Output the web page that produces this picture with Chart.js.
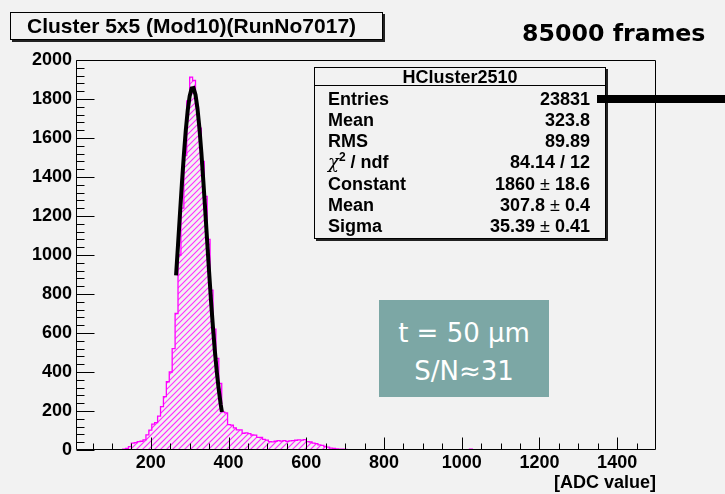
<!DOCTYPE html>
<html><head><meta charset="utf-8">
<script src="https://cdn.jsdelivr.net/npm/chart.js@4.4.1/dist/chart.umd.min.js"></script>
<style>
html,body{margin:0;padding:0;background:#fff;}
#wrap{position:relative;width:725px;height:494px;background:#f2f2f2;overflow:hidden;font-family:'Liberation Sans',Arial,sans-serif;color:#000;}
canvas{position:absolute;left:0;top:0;}
.abs{position:absolute;white-space:nowrap;}
#titlebox{left:10px;top:12px;width:355px;height:26px;border:1px solid #000;box-shadow:2px 2px 0 #222;font-weight:bold;font-size:21px;line-height:26px;padding-left:16px;box-sizing:content-box;}
#frames{left:522px;top:19px;font-family:'DejaVu Sans',Verdana,sans-serif;font-weight:bold;font-size:23.7px;line-height:28px;}
#stats{left:314px;top:67px;width:290px;height:170px;border:1px solid #000;box-shadow:2px 2px 0 #222;}
#statsHead{left:314px;top:67px;width:292px;height:18px;border-bottom:1px solid #000;}
.sh{font-weight:bold;font-size:18px;line-height:20px;}
.sl{left:328px;font-weight:bold;font-size:18px;line-height:20px;}
.sv{right:135px;font-weight:bold;font-size:18px;line-height:20px;text-align:right;}
.pm{font-weight:normal;}
#teal{left:379px;top:300px;width:170px;height:97px;background:#7ca7a5;color:#fff;font-family:'DejaVu Sans',Verdana,sans-serif;font-size:26px;text-align:center;}
#arrow{left:597px;top:95px;width:128px;height:8px;background:#000;}
</style></head><body>
<div id="wrap">
<canvas id="c" width="725" height="494"></canvas>
<div id="titlebox" class="abs">Cluster 5x5 (Mod10)(RunNo7017)</div>
<div id="frames" class="abs">85000 frames</div>
<div id="stats" class="abs"></div>
<div id="statsHead" class="abs"></div>
<div class="abs sh" style="left:314px;width:292px;top:67px;text-align:center;">HCluster2510</div>
<div class="abs sl" style="top:89px;">Entries</div><div class="abs sv" style="top:89px;">23831</div>
<div class="abs sl" style="top:110px;">Mean</div><div class="abs sv" style="top:110px;">323.8</div>
<div class="abs sl" style="top:131px;">RMS</div><div class="abs sv" style="top:131px;">89.89</div>
<div class="abs sl" style="top:152px;"><i style="font-family:'DejaVu Serif',serif;font-weight:normal;">χ</i><sup style="font-size:12px;line-height:0;">2</sup> / ndf</div><div class="abs sv" style="top:152px;">84.14 / 12</div>
<div class="abs sl" style="top:174px;">Constant</div><div class="abs sv" style="top:174px;">1860 <span class="pm">±</span> 18.6</div>
<div class="abs sl" style="top:195px;">Mean</div><div class="abs sv" style="top:195px;">307.8 <span class="pm">±</span> 0.4</div>
<div class="abs sl" style="top:216px;">Sigma</div><div class="abs sv" style="top:216px;">35.39 <span class="pm">±</span> 0.41</div>
<div id="arrow" class="abs"></div>
<div id="teal" class="abs"><div style="position:absolute;left:0;right:0;top:14px;line-height:38px;">t = 50 μm<br>S/N≈31</div></div>
</div>
<script>
// ---- data ----
const binLowEdges = [112.5,120,127.5,135,142.5,150,157.5,165,172.5,180,187.5,195,202.5,210,217.5,225,232.5,240,247.5,255,262.5,270,277.5,285,292.5,300,307.5,315,322.5,330,337.5,345,352.5,360,367.5,375,382.5,390,397.5,405,412.5,420,427.5,435,442.5,450,457.5,465,472.5,480,487.5,495,502.5,510,517.5,525,532.5,540,547.5,555,562.5,570,577.5,585,592.5,600,607.5,615,622.5,630,637.5,645,652.5,660,667.5,675,682.5,690,697.5,705,712.5,720,1020,1027.5];
const binCounts   = [0,2,4,8,17,35,38,43,45,52,78,102,133,140,174,222,274,350,400,520,700,1000,1240,1510,1790,1912,1895,1760,1650,1480,1300,1080,820,620,470,342,196,190,130,128,113,103,103,86,88,84,77,76,65,64,55,51,43,42,45,48,46,48,44,47,48,50,52,51,53,43,41,35,33,26,24,18,15,10,8,6,5,4,3,2,1,0,4,0];
const fitX = [265,270,275,280,285,290,295,300,305,310,315,320,325,330,335,340,345,350,355,360,365,370,375,380,383];
const fitY = [895,1051,1210,1366,1511,1639,1742,1815,1854,1856,1822,1753,1653,1528,1384,1230,1071,914,764,627,504,397,307,232,195];
const xTickLabels = [200,400,600,800,1000,1200,1400];
const yTickLabels = [0,200,400,600,800,1000,1200,1400,1600,1800,2000];
const xRange = [7.5, 1500];
const yRange = [0, 2000];

const xMinorTicks = []; for (let v = 50; v < 1500; v += 50) xMinorTicks.push(v);
const yMinorTicks = []; for (let v = 40; v < 2000; v += 40) yMinorTicks.push(v);

const histPts = binLowEdges.map((x, i) => ({x, y: binCounts[i]}));
const fitPts = fitX.map((x, i) => ({x, y: fitY[i]}));

// hatch (ROOT fill style 3004) drawn under the histogram outline, clipped to the bins
const hatchPlugin = {
  id: 'hatch',
  beforeDatasetDraw(chart, args) {
    if (args.index !== 1) return;
    const {ctx, chartArea: a, scales: {x, y}} = chart;
    const y0 = y.getPixelForValue(0);
    ctx.save();
    ctx.beginPath();
    for (let i = 0; i < binLowEdges.length - 1; i++) {
      if (binCounts[i] <= 0) continue;
      const xa = x.getPixelForValue(binLowEdges[i]);
      const xb = x.getPixelForValue(binLowEdges[i + 1]);
      const yv = y.getPixelForValue(binCounts[i]);
      ctx.rect(xa, yv, xb - xa, y0 - yv);
    }
    ctx.clip();
    ctx.strokeStyle = '#ff30ff';
    ctx.lineWidth = 1.1;
    ctx.beginPath();
    const step = 6, h = a.bottom - a.top;
    for (let sx = a.left - h; sx < a.right + step; sx += step) {
      ctx.moveTo(sx, a.bottom);
      ctx.lineTo(sx + h, a.top);
    }
    ctx.stroke();
    ctx.restore();
  }
};

const frameAxes = {
  id: 'frameAxes',
  afterDatasetsDraw(chart) {
    const {ctx, chartArea: a, scales: {x, y}} = chart;
    const L = Math.round(a.left) + 0.5, R = Math.round(a.right) - 0.5, T = Math.round(a.top) + 0.5, B = Math.round(a.bottom) - 0.5;
    ctx.save();
    ctx.strokeStyle = '#000'; ctx.lineWidth = 1;
    ctx.beginPath();
    ctx.moveTo(L, T); ctx.lineTo(R, T); ctx.lineTo(R, B); ctx.lineTo(L, B); ctx.closePath();
    yMinorTicks.forEach(v => { const p = Math.round(y.getPixelForValue(v)) + 0.5; ctx.moveTo(L, p); ctx.lineTo(L + 8, p); });
    yTickLabels.forEach(v => { const p = Math.round(y.getPixelForValue(v)) + 0.5; ctx.moveTo(L, p); ctx.lineTo(L + 18, p); });
    xMinorTicks.forEach(v => { const p = Math.round(x.getPixelForValue(v)) + 0.5; ctx.moveTo(p, B); ctx.lineTo(p, B - 6); });
    xTickLabels.forEach(v => { const p = Math.round(x.getPixelForValue(v)) + 0.5; ctx.moveTo(p, B); ctx.lineTo(p, B - 12); });
    ctx.stroke();
    ctx.restore();
  }
};

const tickFont = {family: "'Liberation Sans', Arial, sans-serif", size: 18, weight: 'bold'};

new Chart(document.getElementById('c'), {
  type: 'line',
  data: {
    datasets: [
      {label: 'fit', data: fitPts, borderColor: '#000', borderWidth: 4, pointRadius: 0, fill: false, tension: 0, order: 0},
      {label: 'HCluster2510', data: histPts, stepped: true, borderColor: '#ff00ff', borderWidth: 1.3, pointRadius: 0, fill: false, order: 1}
    ]
  },
  options: {
    responsive: false, animation: false, devicePixelRatio: 1,
    layout: {padding: {left: 0, top: 60, right: 69, bottom: 0}},
    plugins: {legend: {display: false}, tooltip: {enabled: false}},
    scales: {
      x: {
        type: 'linear', min: xRange[0], max: xRange[1],
        grid: {display: false, drawTicks: false}, border: {display: false},
        afterBuildTicks: s => { s.ticks = xTickLabels.map(v => ({value: v})); },
        afterFit: s => { s.height = 44; },
        ticks: {font: tickFont, color: '#000', padding: 2, maxRotation: 0, autoSkip: false, callback: v => String(v)},
        title: {display: true, text: '[ADC value]', align: 'end', color: '#000', font: tickFont, padding: 0}
      },
      y: {
        type: 'linear', min: yRange[0], max: yRange[1],
        grid: {display: false, drawTicks: false}, border: {display: false},
        afterBuildTicks: s => { s.ticks = yTickLabels.map(v => ({value: v})); },
        afterFit: s => { s.width = 76; },
        ticks: {font: tickFont, color: '#000', padding: 4, autoSkip: false, callback: v => String(v)}
      }
    }
  },
  plugins: [hatchPlugin, frameAxes]
});
</script>
</body></html>
